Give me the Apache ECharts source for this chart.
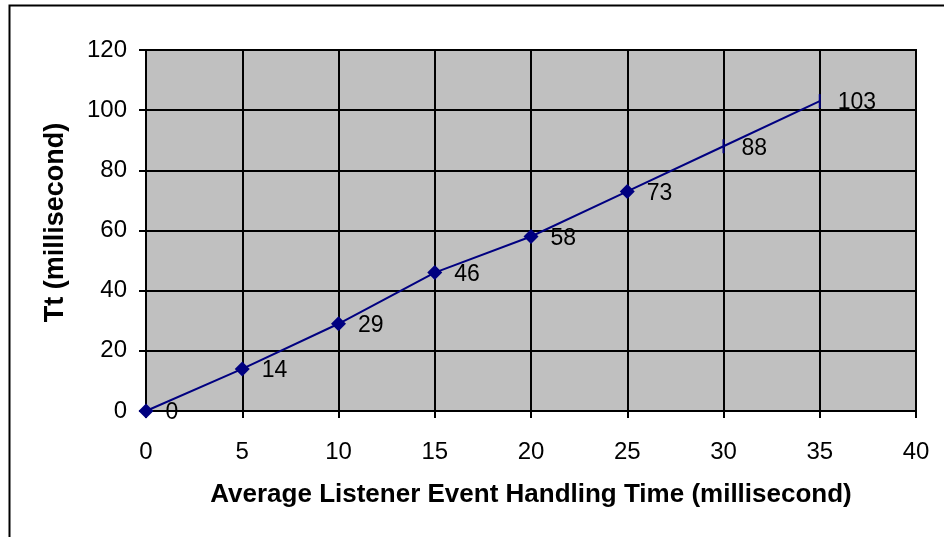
<!DOCTYPE html>
<html>
<head>
<meta charset="utf-8">
<script src="https://cdn.jsdelivr.net/npm/echarts@6/dist/echarts.min.js"></script>
<style>html,body{margin:0;padding:0;background:#fff}#c{width:944px;height:537px}</style>
</head>
<body>
<div id="c"></div>
<script>
var xValues = [0, 5, 10, 15, 20, 25, 30, 35];
var ttValues = [0, 14, 29, 46, 58, 73, 88, 103];
var markerShapes = ['diamond','diamond','diamond','diamond','diamond','diamond','dash','dash'];
var xAxisName = 'Average Listener Event Handling Time (millisecond)';
var yAxisName = 'Tt (millisecond)';

var chart = echarts.init(document.getElementById('c'));
var data = xValues.map(function (x, i) {
  var d = { value: [x, ttValues[i]] };
  if (markerShapes[i] === 'dash') {
    d.symbol = 'rect';
    d.symbolSize = [2, 14];
    d.label = { distance: 17 };
  }
  return d;
});
var font = 'Liberation Sans, Arial, sans-serif';
chart.setOption({
  animation: false,
  graphic: [{
    type: 'rect', shape: { x: 9.5, y: 5.5, width: 1000, height: 600 },
    style: { fill: 'none', stroke: '#000', lineWidth: 2 }, z: -1
  }],
  grid: { left: 146, right: 28, top: 50, bottom: 126, show: true, backgroundColor: '#C0C0C0', borderColor: '#000', borderWidth: 2 },
  xAxis: {
    type: 'value', min: 0, max: 40, interval: 5,
    name: xAxisName, nameLocation: 'middle', nameGap: 71,
    nameTextStyle: { fontFamily: font, fontSize: 26, fontWeight: 'bold', color: '#000' },
    axisLine: { show: true, onZero: false, lineStyle: { color: '#000', width: 2 } },
    axisTick: { show: true, inside: false, length: 7, lineStyle: { color: '#000', width: 2 } },
    axisLabel: { fontFamily: font, fontSize: 24, color: '#000', margin: 29 },
    splitLine: { show: true, lineStyle: { color: '#000', width: 2 } }
  },
  yAxis: {
    type: 'value', min: 0, max: 120, interval: 20,
    name: yAxisName, nameLocation: 'middle', nameGap: 77, nameRotate: 90,
    nameTextStyle: { fontFamily: font, fontSize: 27, fontWeight: 'bold', color: '#000', padding: [0, 0, 0, 16] },
    axisLine: { show: true, lineStyle: { color: '#000', width: 2 } },
    axisTick: { show: true, inside: false, length: 7, lineStyle: { color: '#000', width: 2 } },
    axisLabel: { fontFamily: font, fontSize: 24, color: '#000', margin: 19 },
    splitLine: { show: true, lineStyle: { color: '#000', width: 2 } }
  },
  series: [{
    type: 'line',
    data: data,
    symbol: 'diamond',
    symbolSize: 15,
    itemStyle: { color: '#000080' },
    lineStyle: { color: '#000080', width: 2 },
    label: {
      show: true, position: 'right', distance: 12, offset: [0, 2],
      fontFamily: font, fontSize: 23, color: '#000',
      formatter: function (p) { return p.value[1]; }
    },
    z: 5
  }]
});
</script>
</body>
</html>
